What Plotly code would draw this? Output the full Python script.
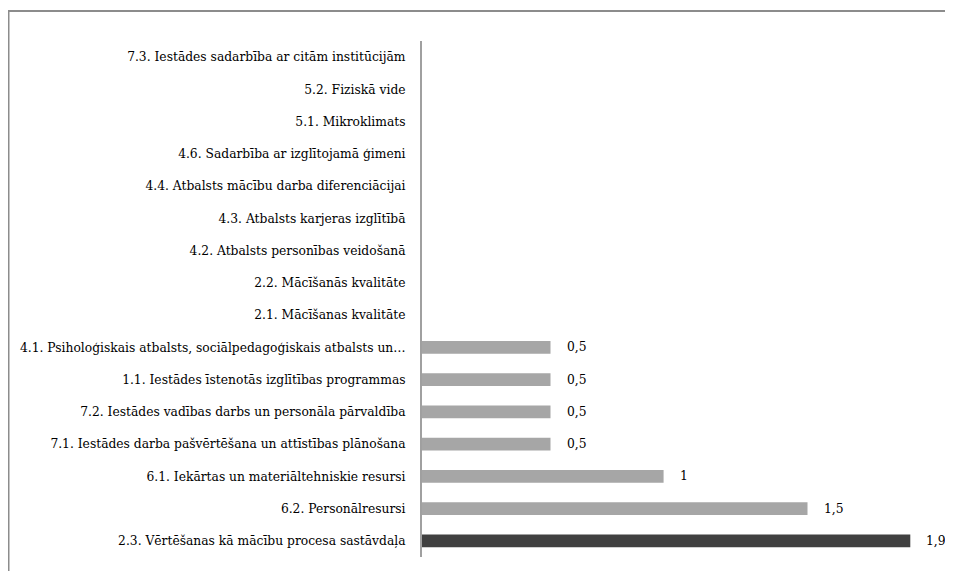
import plotly.graph_objects as go

categories = [
    "7.3. Iestādes sadarbība ar citām institūcijām",
    "5.2. Fiziskā vide",
    "5.1. Mikroklimats",
    "4.6. Sadarbība ar izglītojamā ģimeni",
    "4.4. Atbalsts mācību darba diferenciācijai",
    "4.3. Atbalsts karjeras izglītībā",
    "4.2. Atbalsts personības veidošanā",
    "2.2. Mācīšanās kvalitāte",
    "2.1. Mācīšanas kvalitāte",
    "4.1. Psiholoģiskais atbalsts, sociālpedagoģiskais atbalsts un…",
    "1.1. Iestādes īstenotās izglītības programmas",
    "7.2. Iestādes vadības darbs un personāla pārvaldība",
    "7.1. Iestādes darba pašvērtēšana un attīstības plānošana",
    "6.1. Iekārtas un materiāltehniskie resursi",
    "6.2. Personālresursi",
    "2.3. Vērtēšanas kā mācību procesa sastāvdaļa",
]
values = [0, 0, 0, 0, 0, 0, 0, 0, 0, 0.5, 0.5, 0.5, 0.5, 0.94, 1.5, 1.9]
value_labels = ["", "", "", "", "", "", "", "", "", "0,5", "0,5", "0,5", "0,5", "1", "1,5", "1,9"]
bar_colors = ["#A6A6A6"] * 15 + ["#404040"]

FONT = "DejaVu Serif"
FS = 12.3

W, H = 937, 563
L, R, T, B = 414, 9, 33, 14
PW, PH = W - L - R, H - T - B

fig = go.Figure()
fig.add_trace(go.Bar(
    y=categories, x=values, orientation="h",
    marker=dict(color=bar_colors, line=dict(width=0)),
    hoverinfo="x+y",
))

for cat, v, lab in zip(categories, values, value_labels):
    if lab:
        fig.add_annotation(x=v, y=cat, text=lab, showarrow=False,
                           xanchor="left", xshift=14,
                           font=dict(family=FONT, size=FS, color="#000000"))

fx = (0 - L) / PW
fy = 1 + (T - 3) / PH
fig.update_layout(
    width=W, height=H,
    margin=dict(l=L, r=R, t=T, b=B),
    paper_bgcolor="white", plot_bgcolor="white",
    bargap=0.6,
    showlegend=False,
    font=dict(family=FONT, size=FS, color="#000000"),
    xaxis=dict(range=[0, 2.0], showgrid=False, zeroline=False,
               showticklabels=False, showline=False, ticks=""),
    yaxis=dict(autorange="reversed", showgrid=False, zeroline=False,
               showline=True, linecolor="#A0A0A0", linewidth=2,
               ticks="", ticklabelstandoff=12,
               tickfont=dict(family=FONT, size=FS, color="#000000")),
    shapes=[
        dict(type="line", xref="paper", yref="paper",
             x0=fx, x1=1.2, y0=fy, y1=fy,
             line=dict(color="#8C8C8C", width=2)),
        dict(type="line", xref="paper", yref="paper",
             x0=fx, x1=fx, y0=fy, y1=-0.2,
             line=dict(color="#8C8C8C", width=3)),
    ],
)

fig.write_html("out.html")
